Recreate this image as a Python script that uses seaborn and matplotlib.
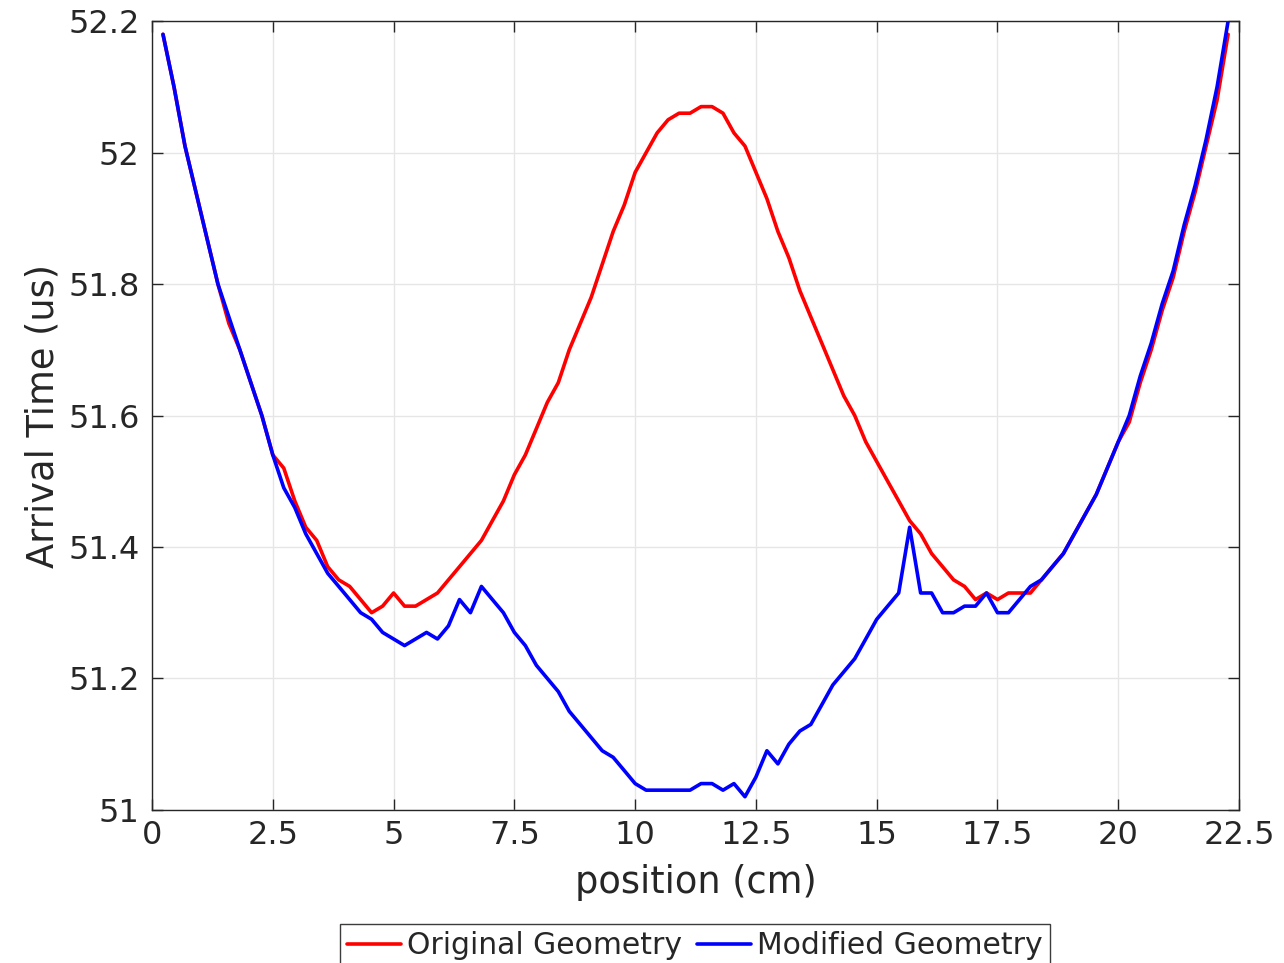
import numpy as np
import pandas as pd
import matplotlib
matplotlib.use("Agg")
import matplotlib.pyplot as plt
import seaborn as sns

# ── Data: sensor position (cm) and arrival times (us) ─────────────────
position = [0.227, 0.455, 0.682, 0.909, 1.136, 1.364, 1.591, 1.818, 2.045, 2.273,
            2.500, 2.727, 2.955, 3.182, 3.409, 3.636, 3.864, 4.091, 4.318, 4.545,
            4.773, 5.000, 5.227, 5.455, 5.682, 5.909, 6.136, 6.364, 6.591, 6.818,
            7.045, 7.273, 7.500, 7.727, 7.955, 8.182, 8.409, 8.636, 8.864, 9.091,
            9.318, 9.545, 9.773, 10.000, 10.227, 10.455, 10.682, 10.909, 11.136, 11.364,
            11.591, 11.818, 12.045, 12.273, 12.500, 12.727, 12.955, 13.182, 13.409, 13.636,
            13.864, 14.091, 14.318, 14.545, 14.773, 15.000, 15.227, 15.455, 15.682, 15.909,
            16.136, 16.364, 16.591, 16.818, 17.045, 17.273, 17.500, 17.727, 17.955, 18.182,
            18.409, 18.636, 18.864, 19.091, 19.318, 19.545, 19.773, 20.000, 20.227, 20.455,
            20.682, 20.909, 21.136, 21.364, 21.591, 21.818, 22.045, 22.273]

original = [52.18, 52.10, 52.01, 51.94, 51.87, 51.80, 51.74, 51.70, 51.65, 51.60,
            51.54, 51.52, 51.47, 51.43, 51.41, 51.37, 51.35, 51.34, 51.32, 51.30,
            51.31, 51.33, 51.31, 51.31, 51.32, 51.33, 51.35, 51.37, 51.39, 51.41,
            51.44, 51.47, 51.51, 51.54, 51.58, 51.62, 51.65, 51.70, 51.74, 51.78,
            51.83, 51.88, 51.92, 51.97, 52.00, 52.03, 52.05, 52.06, 52.06, 52.07,
            52.07, 52.06, 52.03, 52.01, 51.97, 51.93, 51.88, 51.84, 51.79, 51.75,
            51.71, 51.67, 51.63, 51.60, 51.56, 51.53, 51.50, 51.47, 51.44, 51.42,
            51.39, 51.37, 51.35, 51.34, 51.32, 51.33, 51.32, 51.33, 51.33, 51.33,
            51.35, 51.37, 51.39, 51.42, 51.45, 51.48, 51.52, 51.56, 51.59, 51.65,
            51.70, 51.76, 51.81, 51.88, 51.94, 52.01, 52.08, 52.18]

modified = [52.18, 52.10, 52.01, 51.94, 51.87, 51.80, 51.75, 51.70, 51.65, 51.60,
            51.54, 51.49, 51.46, 51.42, 51.39, 51.36, 51.34, 51.32, 51.30, 51.29,
            51.27, 51.26, 51.25, 51.26, 51.27, 51.26, 51.28, 51.32, 51.30, 51.34,
            51.32, 51.30, 51.27, 51.25, 51.22, 51.20, 51.18, 51.15, 51.13, 51.11,
            51.09, 51.08, 51.06, 51.04, 51.03, 51.03, 51.03, 51.03, 51.03, 51.04,
            51.04, 51.03, 51.04, 51.02, 51.05, 51.09, 51.07, 51.10, 51.12, 51.13,
            51.16, 51.19, 51.21, 51.23, 51.26, 51.29, 51.31, 51.33, 51.43, 51.33,
            51.33, 51.30, 51.30, 51.31, 51.31, 51.33, 51.30, 51.30, 51.32, 51.34,
            51.35, 51.37, 51.39, 51.42, 51.45, 51.48, 51.52, 51.56, 51.60, 51.66,
            51.71, 51.77, 51.82, 51.89, 51.95, 52.02, 52.10, 52.20]

series_names = ["Original Geometry", "Modified Geometry"]
series_colors = ["#ff0000", "#0000ff"]

x_ticks = [0, 2.5, 5, 7.5, 10, 12.5, 15, 17.5, 20, 22.5]
x_ticklabels = ["0", "2.5", "5", "7.5", "10", "12.5", "15", "17.5", "20", "22.5"]
y_ticks = [51.0, 51.2, 51.4, 51.6, 51.8, 52.0, 52.2]
y_ticklabels = ["51", "51.2", "51.4", "51.6", "51.8", "52", "52.2"]

df = pd.DataFrame({
    "position": position * 2,
    "time": original + modified,
    "geometry": [series_names[0]] * len(original) + [series_names[1]] * len(modified),
})

# ── Plot ──────────────────────────────────────────────────────────────
sns.set_theme(style="white")
plt.rcParams["font.family"] = ["DejaVu Sans"]
dark = "#262626"

fig = plt.figure(figsize=(12.84, 9.63), dpi=100)
ax = fig.add_axes([0.1184, 0.159, 0.8466, 0.819])

sns.lineplot(data=df, x="position", y="time", hue="geometry",
             palette=dict(zip(series_names, series_colors)),
             estimator=None, sort=False, linewidth=2.6, ax=ax)

ax.set_xlim(0, 22.5)
ax.set_ylim(51.0, 52.2)
ax.set_xticks(x_ticks)
ax.set_xticklabels(x_ticklabels)
ax.set_yticks(y_ticks)
ax.set_yticklabels(y_ticklabels)
ax.grid(True, color="#e6e6e6", linewidth=1.0)
ax.set_axisbelow(True)

for side in ["top", "bottom", "left", "right"]:
    ax.spines[side].set_visible(True)
    ax.spines[side].set_color(dark)
    ax.spines[side].set_linewidth(1.0)

ax.tick_params(axis="both", direction="in", length=8, width=1.0, color=dark,
               labelsize=23, labelcolor=dark, top=True, right=True,
               bottom=True, left=True)
ax.tick_params(axis="y", pad=9)
ax.tick_params(axis="x", pad=7)

ax.set_xlabel("position (cm)", fontsize=26.5, color=dark, labelpad=10)
ax.set_ylabel("Arrival Time (us)", fontsize=26.5, color=dark, labelpad=5)

handles, labels = ax.get_legend_handles_labels()
ax.legend(handles, labels, loc="upper center", bbox_to_anchor=(0.541, 0.0405),
          bbox_transform=fig.transFigure, ncol=2, fontsize=21.5,
          frameon=True, fancybox=False, edgecolor="#3c3c3c", framealpha=1,
          handlelength=1.8, handletextpad=0.2, columnspacing=0.5,
          borderpad=0.25, borderaxespad=0)

plt.savefig("out.png", dpi=100)
